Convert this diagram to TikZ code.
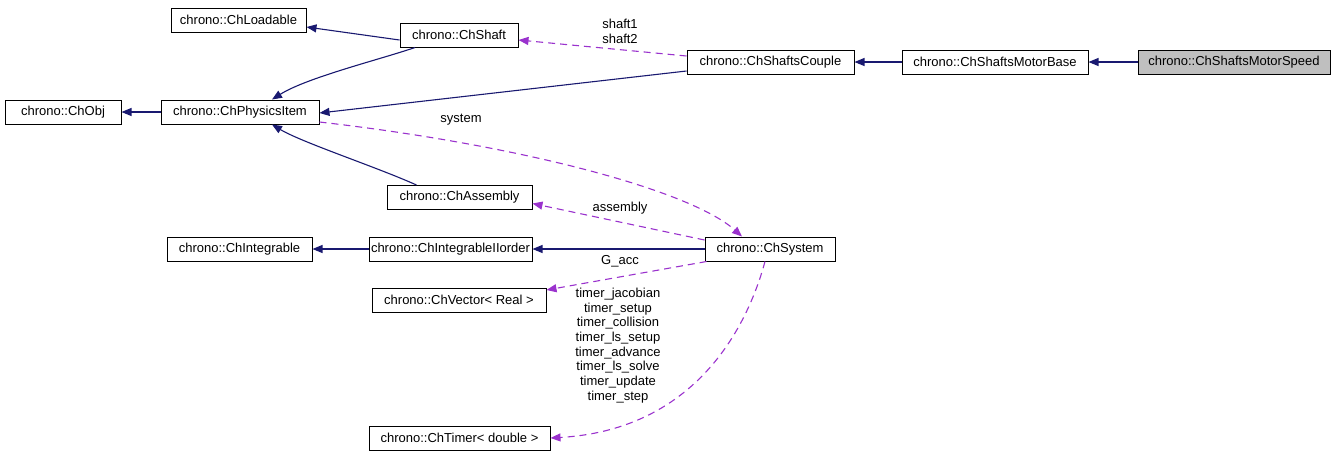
\documentclass[tikz,border=0pt]{standalone}
\usepackage{fontspec}
\setmainfont{Liberation Sans}
\usetikzlibrary{arrows.meta,calc}
\definecolor{inhcol}{HTML}{191970}
\definecolor{usecol}{HTML}{9A32CD}
\definecolor{curfill}{HTML}{BFBFBF}
\begin{document}
\begin{tikzpicture}[x=1pt,y=-1pt,
  cls/.style={draw=black,line width=1pt,fill=white,minimum height=24pt,inner sep=0pt,
    font=\fontsize{13}{14.7}\selectfont},
  inh/.style={draw=inhcol,line width=1.1pt,-{Triangle[length=10pt,width=8pt]}},
  use/.style={draw=usecol,line width=1.1pt,dash pattern=on 7pt off 5pt,-{Triangle[length=10pt,width=8pt]}},
  lbl/.style={font=\fontsize{13}{14.7}\selectfont,inner sep=0pt,align=center}]
\useasboundingbox (0,0) rectangle (1339,459);
\node[cls,minimum width=135] (loadable) at (238.5,20) {chrono::ChLoadable};
\node[cls,minimum width=118] (shaft) at (459,35) {chrono::ChShaft};
\node[cls,minimum width=116] (obj) at (63,112) {chrono::ChObj};
\node[cls,minimum width=158] (physics) at (240,112) {chrono::ChPhysicsItem};
\node[cls,minimum width=167] (couple) at (770.5,62) {chrono::ChShaftsCouple};
\node[cls,minimum width=186] (motorbase) at (995,62) {chrono::ChShaftsMotorBase};
\node[cls,minimum width=192,fill=curfill] (motorspeed) at (1234,62) {chrono::ChShaftsMotorSpeed};
\node[cls,minimum width=145] (assembly) at (459.5,197.5) {chrono::ChAssembly};
\node[cls,minimum width=145] (integrable) at (239.5,249) {chrono::ChIntegrable};
\node[cls,minimum width=163] (iiorder) at (450.5,249) {chrono::ChIntegrableIIorder};
\node[cls,minimum width=130] (system) at (770,249) {chrono::ChSystem};
\node[cls,minimum width=174] (vector) at (459,300) {chrono::ChVector< Real >};
\node[cls,minimum width=181] (timer) at (459.5,438) {chrono::ChTimer< double >};
% inheritance
\draw[inh] ([yshift=-5pt]shaft.west) -- ([yshift=-7pt]loadable.east);
\draw[inh] ([xshift=-44pt]shaft.south) .. controls +(-35,12) and +(35,-22) .. ([xshift=32pt]physics.north);
\draw[inh] ([yshift=-9pt]couple.west) -- ([yshift=-1pt]physics.east);
\draw[inh] (motorbase.west) -- (couple.east);
\draw[inh] (motorspeed.west) -- (motorbase.east);
\draw[inh] (physics.west) -- (obj.east);
\draw[inh] ([xshift=-43pt]assembly.north) .. controls +(-40,-18) and +(30,18) .. ([xshift=32pt]physics.south);
\draw[inh] (system.west) -- (iiorder.east);
\draw[inh] (iiorder.west) -- (integrable.east);
% usage
\draw[use] ([yshift=6pt]couple.west) -- ([yshift=-5pt]shaft.east);
\node[lbl] (lshaft) at (620,31) {shaft1\\shaft2};
\draw[use] ([yshift=-10pt]physics.east) .. controls (520,145) and (690,190) .. ([xshift=-28pt]system.north);
\node[lbl] (lsystem) at (461,120) {system};
\draw[use] ([yshift=9pt]system.west) -- ([yshift=-6pt]assembly.east);
\node[lbl] (lassembly) at (620,208) {assembly};
\draw[use] ([xshift=2pt]system.south west) -- ([yshift=10pt]vector.east);
\node[lbl] (lgacc) at (620,261) {G\_acc};
\draw[use] ([xshift=-5pt]system.south) .. controls (745,335) and (690,430) .. (timer.east);
\node[lbl] (ltimer) at (618,345.5) {timer\_jacobian\\timer\_setup\\timer\_collision\\timer\_ls\_setup\\timer\_advance\\timer\_ls\_solve\\timer\_update\\timer\_step};
\end{tikzpicture}
\end{document}
